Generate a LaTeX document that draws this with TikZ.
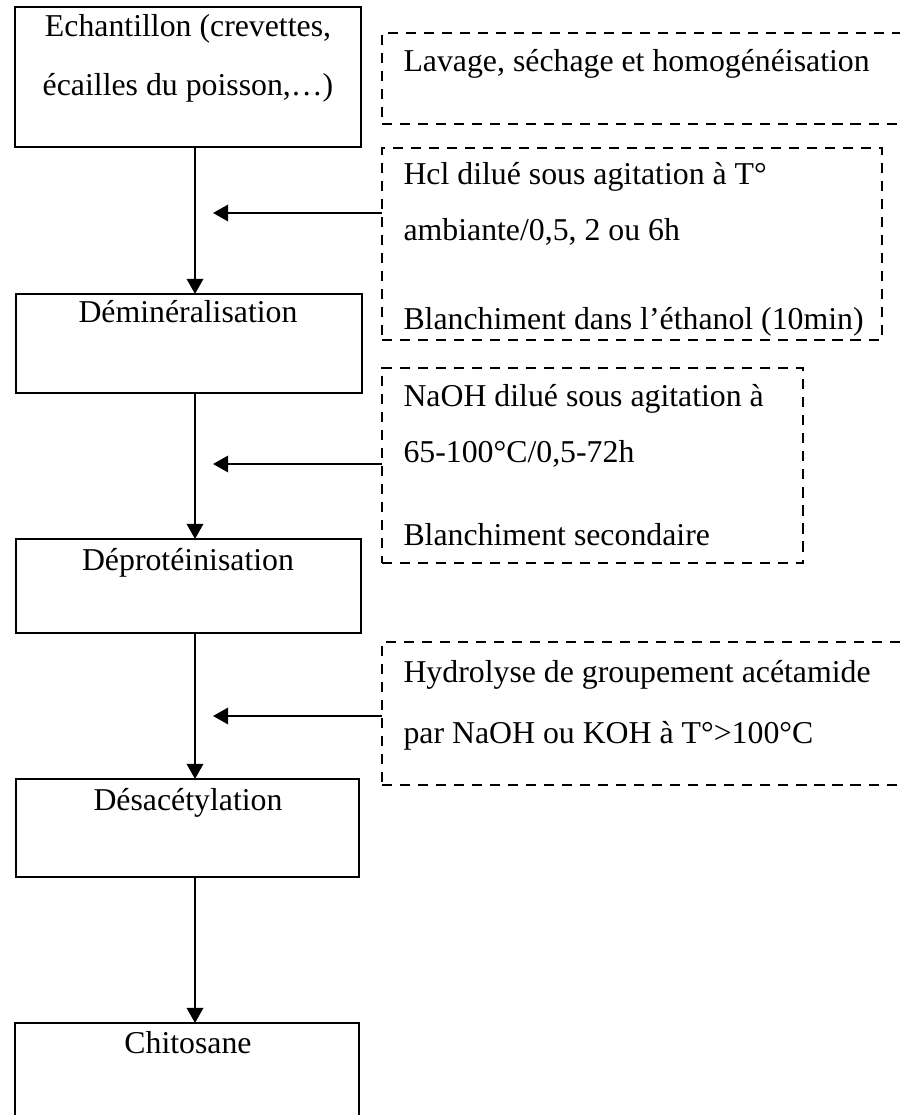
\documentclass[tikz,border=0pt]{standalone}
\usepackage{fontspec}
\setmainfont{Liberation Serif}
\usetikzlibrary{arrows.meta}
\def\pxu{0.3774pt}

\begin{document}
\begin{tikzpicture}[x=0.3774pt, y=-0.3774pt,
  proc/.style={draw, line width=0.8pt, rectangle, inner sep=0pt, outer sep=0pt, anchor=north west},
  cond/.style={proc, dash pattern=on 3.8pt off 3pt},
  txt/.style={inner sep=0pt, font=\fontsize{12}{14}\selectfont},
  arr/.style={-{Triangle[length=5.7pt,width=6.2pt]}, line width=0.8pt}]
\useasboundingbox (0,0) rectangle (899,1115);

\node[proc, minimum width=346*\pxu, minimum height=140*\pxu] (ech) at (15,7) {};
\node[proc, minimum width=346*\pxu, minimum height=99*\pxu] (demin) at (16,294) {};
\node[proc, minimum width=345*\pxu, minimum height=94*\pxu] (deprot) at (16,539) {};
\node[proc, minimum width=343*\pxu, minimum height=98*\pxu] (desac) at (16,779) {};
\node[proc, minimum width=344*\pxu, minimum height=96*\pxu] (chito) at (15,1023) {};

\node[txt, anchor=base] (ech1) at (188,37) {Echantillon (crevettes,};
\node[txt, anchor=base] (ech2) at (188,96) {écailles du poisson,…)};
\node[txt, anchor=base] (demin1) at (188,323) {Déminéralisation};
\node[txt, anchor=base] (deprot1) at (188,570) {Déprotéinisation};
\node[txt, anchor=base] (desac1) at (188,810) {Désacétylation};
\node[txt, anchor=base] (chito1) at (188,1053) {Chitosane};

\node[cond, minimum width=530*\pxu, minimum height=91*\pxu] (lav) at (382,33) {};
\node[cond, minimum width=500*\pxu, minimum height=192*\pxu] (hcl) at (382,148) {};
\node[cond, minimum width=421*\pxu, minimum height=195*\pxu] (naoh) at (382,368) {};
\node[cond, minimum width=530*\pxu, minimum height=143*\pxu] (hydro) at (382,642) {};

\node[txt, anchor=base west] (lav1) at (403,72) {Lavage, séchage et homogénéisation};
\node[txt, anchor=base west] (hcl1) at (403,185) {Hcl dilué sous agitation à T°};
\node[txt, anchor=base west] (hcl2) at (403,241) {ambiante/0,5, 2 ou 6h};
\node[txt, anchor=base west] (hcl3) at (403,330) {Blanchiment dans l’éthanol (10min)};
\node[txt, anchor=base west] (naoh1) at (403,407) {NaOH dilué sous agitation à};
\node[txt, anchor=base west] (naoh2) at (403,462) {65-100°C/0,5-72h};
\node[txt, anchor=base west] (naoh3) at (403,545) {Blanchiment secondaire};
\node[txt, anchor=base west] (hydro1) at (403,682) {Hydrolyse de groupement acétamide};
\node[txt, anchor=base west] (hydro2) at (403,743) {par NaOH ou KOH à T°>100°C};

\coordinate (ax) at (195,0);
\coordinate (t1) at (213,213);
\coordinate (t2) at (213,464);
\coordinate (t3) at (213,716);

\draw[arr] (ech.south -| ax) -- (demin.north -| ax);
\draw[arr] (demin.south -| ax) -- (deprot.north -| ax);
\draw[arr] (deprot.south -| ax) -- (desac.north -| ax);
\draw[arr] (desac.south -| ax) -- (chito.north -| ax);
\draw[arr] (hcl.west |- t1) -- (t1);
\draw[arr] (naoh.west |- t2) -- (t2);
\draw[arr] (hydro.west |- t3) -- (t3);
\end{tikzpicture}
\end{document}
